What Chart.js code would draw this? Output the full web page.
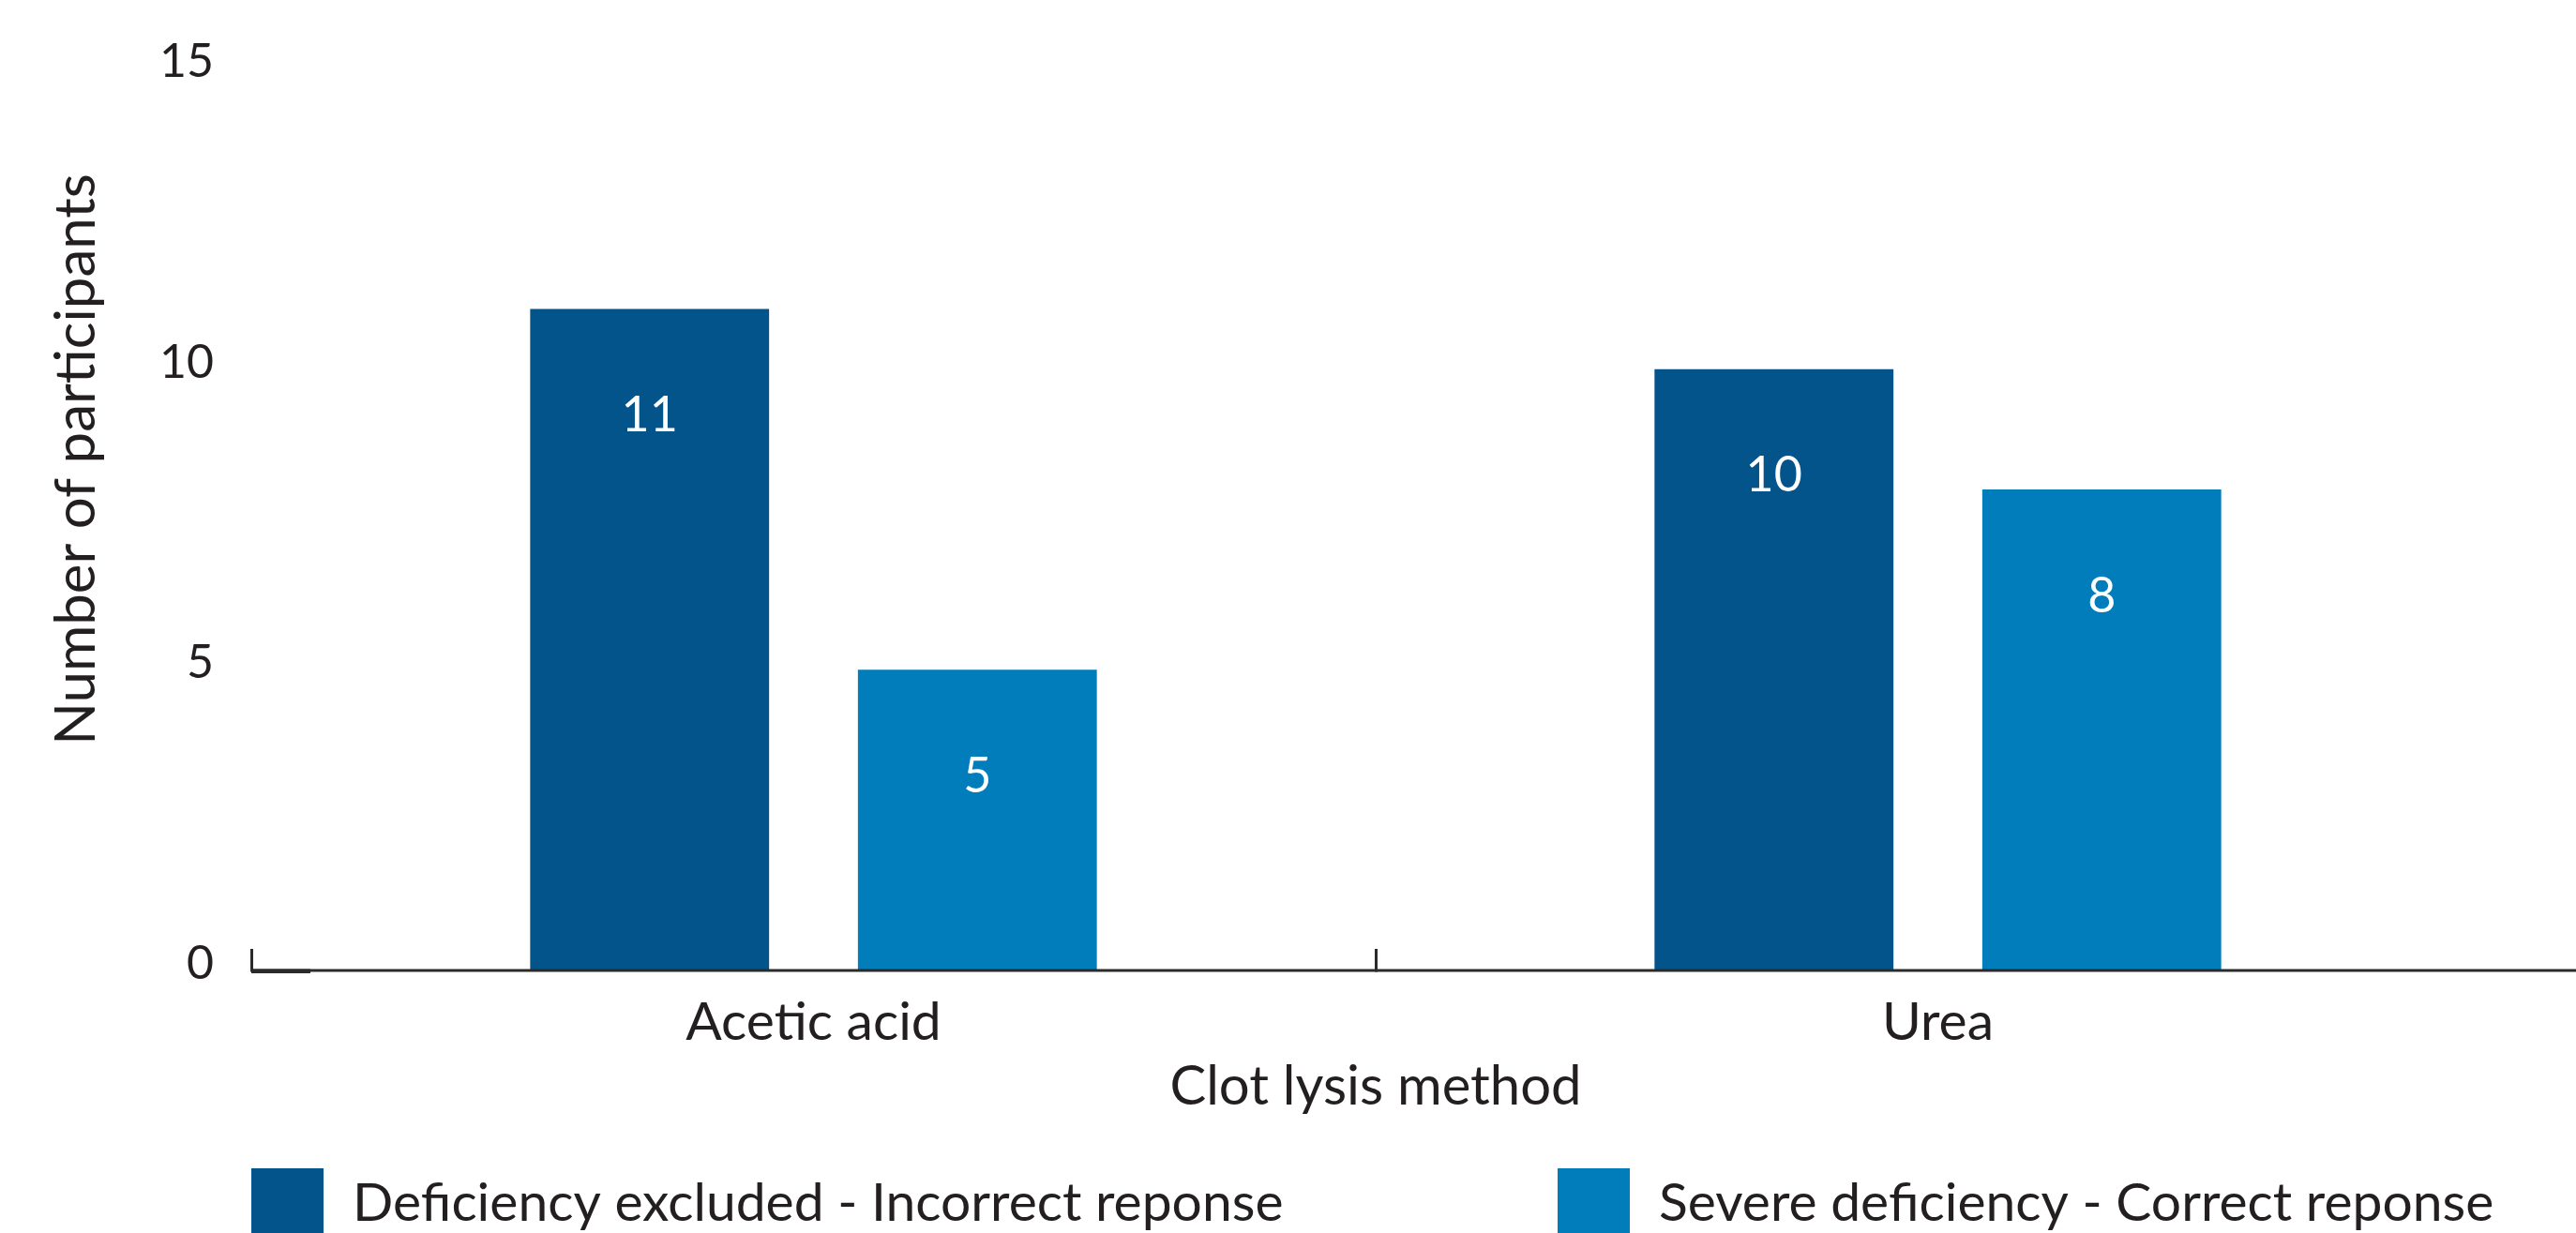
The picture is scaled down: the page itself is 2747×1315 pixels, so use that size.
<!DOCTYPE html>
<html>
<head>
<meta charset="utf-8">
<script src="https://cdn.jsdelivr.net/npm/chart.js@4.4.1/dist/chart.umd.min.js"></script>
<style>
  html, body { margin: 0; padding: 0; background: #ffffff; overflow: hidden; }
  canvas { display: block; }
</style>
</head>
<body>
<canvas id="chart" width="2747" height="1315"></canvas>
<script>
// Categories and series values
const categories = ['Acetic acid', 'Urea'];
const seriesNames = ['Deficiency excluded - Incorrect reponse', 'Severe deficiency - Correct reponse'];
const deficiencyExcluded = [11, 10];
const severeDeficiency = [5, 8];
const yTickValues = [0, 5, 10, 15];
const yAxisTitle = 'Number of participants';
const xAxisTitle = 'Clot lysis method';

const seriesColors = ['#03548b', '#017dbb'];
const FONT = 'Lato, "Open Sans", sans-serif';
const INK = '#231f20';

// Baseline along the bottom, with small upward ticks at the category boundaries
const baselinePlugin = {
  id: 'baseline',
  afterDatasetsDraw(chart) {
    const { ctx, chartArea, scales } = chart;
    const y0 = scales.y.getPixelForValue(0);
    const x = scales.x;
    const half = (x.getPixelForValue(1) - x.getPixelForValue(0)) / 2;
    ctx.save();
    ctx.strokeStyle = '#2b2b2b';
    ctx.lineWidth = 3;
    ctx.beginPath();
    ctx.moveTo(chartArea.left, y0);
    ctx.lineTo(chart.width, y0);
    ctx.stroke();
    ctx.lineWidth = 4.5;
    ctx.beginPath();
    ctx.moveTo(chartArea.left, y0 + 0.75);
    ctx.lineTo(chartArea.left + 63, y0 + 0.75);
    ctx.stroke();
    ctx.lineWidth = 3;
    categories.forEach((c, i) => {
      const bx = Math.round(x.getPixelForValue(i) - half) + 0.5;
      ctx.beginPath();
      ctx.moveTo(bx, y0 + 1.5);
      ctx.lineTo(bx, y0 - 23);
      ctx.stroke();
    });
    ctx.restore();
  }
};

// Value written inside each bar
const valueLabelPlugin = {
  id: 'valueLabels',
  afterDatasetsDraw(chart) {
    const { ctx } = chart;
    ctx.save();
    ctx.fillStyle = '#ffffff';
    ctx.font = '52px ' + FONT;
    ctx.textAlign = 'center';
    ctx.textBaseline = 'middle';
    chart.data.datasets.forEach((ds, i) => {
      chart.getDatasetMeta(i).data.forEach((bar, j) => {
        ctx.fillText(String(ds.data[j]), bar.x, bar.y + 114);
      });
    });
    ctx.restore();
  }
};

// Rotated y-axis title
const yTitlePlugin = {
  id: 'yTitle',
  afterDraw(chart) {
    const { ctx } = chart;
    ctx.save();
    ctx.translate(82, 490);
    ctx.rotate(-Math.PI / 2);
    ctx.fillStyle = INK;
    ctx.font = '60px ' + FONT;
    ctx.textAlign = 'center';
    ctx.textBaseline = 'middle';
    ctx.fillText(yAxisTitle, 0, 0);
    ctx.restore();
  }
};

// Legend row along the bottom edge
const legendPlugin = {
  id: 'bottomLegend',
  afterDraw(chart) {
    const { ctx } = chart;
    const itemX = [268, 1661];
    ctx.save();
    ctx.font = '57px ' + FONT;
    ctx.textAlign = 'left';
    ctx.textBaseline = 'middle';
    chart.data.datasets.forEach((ds, i) => {
      ctx.fillStyle = ds.backgroundColor;
      ctx.fillRect(itemX[i], 1246, 77, 90);
      ctx.fillStyle = INK;
      ctx.fillText(ds.label, itemX[i] + 108, 1284);
    });
    ctx.restore();
  }
};

new Chart(document.getElementById('chart'), {
  type: 'bar',
  data: {
    labels: categories,
    datasets: [
      { label: seriesNames[0], data: deficiencyExcluded, backgroundColor: seriesColors[0] },
      { label: seriesNames[1], data: severeDeficiency, backgroundColor: seriesColors[1] }
    ]
  },
  options: {
    responsive: false,
    devicePixelRatio: 1,
    animation: false,
    layout: { padding: { top: 73, right: 81, left: 0, bottom: 0 } },
    datasets: {
      bar: { categoryPercentage: 0.583, barPercentage: 0.729, borderWidth: 0 }
    },
    plugins: {
      legend: { display: false },
      tooltip: { enabled: false },
      title: { display: false }
    },
    scales: {
      x: {
        type: 'category',
        offset: true,
        grid: { display: false, drawTicks: false },
        border: { display: false },
        ticks: { font: { family: FONT, size: 57 }, color: INK, padding: 21 },
        title: {
          display: true,
          text: xAxisTitle,
          color: INK,
          font: { family: FONT, size: 58 },
          padding: { top: 0, bottom: 121 }
        },
        afterFit(scale) { scale.height = 280; }
      },
      y: {
        min: 0,
        max: 15,
        afterBuildTicks(scale) { scale.ticks = yTickValues.map(v => ({ value: v })); },
        grid: { display: false, drawTicks: false },
        border: { display: false },
        ticks: { font: { family: FONT, size: 50 }, color: INK, padding: 40, labelOffset: -7 },
        afterFit(scale) { scale.width = 268; }
      }
    }
  },
  plugins: [baselinePlugin, valueLabelPlugin, yTitlePlugin, legendPlugin]
});
</script>
</body>
</html>
